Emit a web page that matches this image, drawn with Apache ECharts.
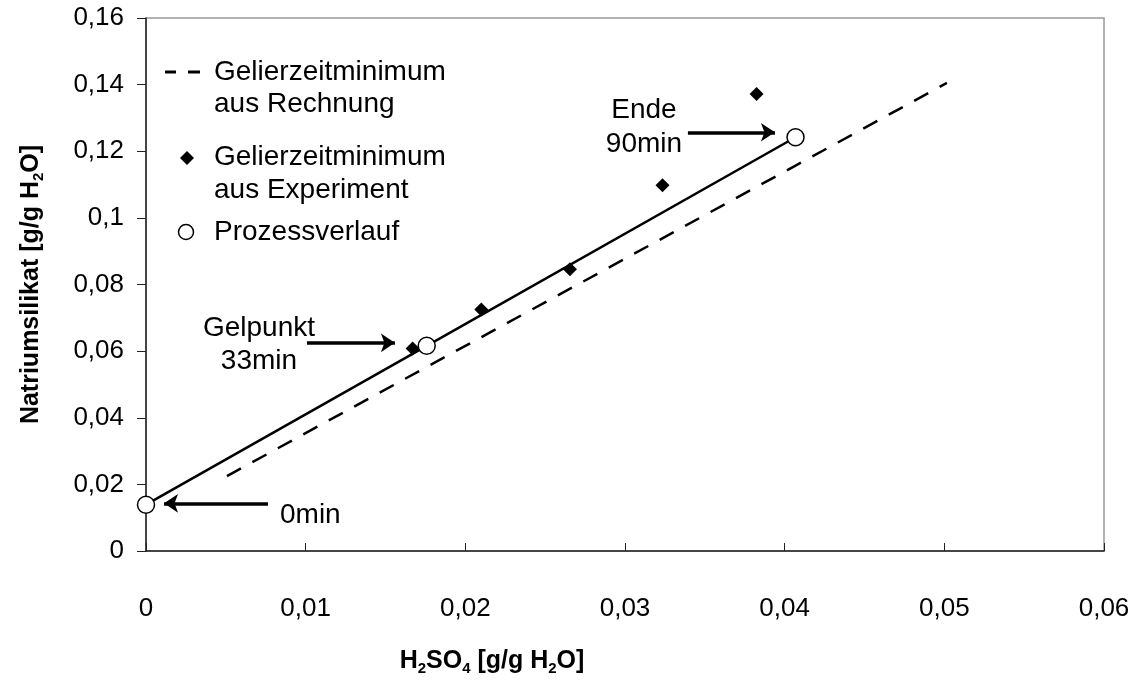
<!DOCTYPE html>
<html>
<head>
<meta charset="utf-8">
<script src="https://cdn.jsdelivr.net/npm/echarts@6/dist/echarts.min.js"></script>
<style>
html,body{margin:0;padding:0;background:#fff;}
#chart{width:1137px;height:681px;}
</style>
</head>
<body>
<div id="chart"></div>
<script>
// Data
const xTicks = [0, 0.01, 0.02, 0.03, 0.04, 0.05, 0.06];
const yTicks = [0, 0.02, 0.04, 0.06, 0.08, 0.1, 0.12, 0.14, 0.16];

const seriesNames = ['Gelierzeitminimum\naus Rechnung', 'Gelierzeitminimum\naus Experiment', 'Prozessverlauf'];

// Calculated gel-time minimum (dashed line)
const rechnungX = [0.00507, 0.05016];
const rechnungY = [0.0225, 0.1405];

// Experimental gel-time minimum (diamonds)
const experimentX = [0.0167, 0.0210, 0.02655, 0.03235, 0.03824];
const experimentY = [0.0608, 0.0725, 0.0846, 0.1098, 0.1372];

// Process path (circles joined by solid line)
const prozessX = [0, 0.01758, 0.04068];
const prozessY = [0.0139, 0.0616, 0.1242];
const prozessLabels = ['0min', 'Gelpunkt\n33min', 'Ende\n90min'];

// Annotation arrows: [fromX, toX, y]
const arrowFromX = [0.00764, 0.01008, 0.03394];
const arrowToX = [0.00113, 0.01559, 0.03939];
const arrowY = [0.0143, 0.0625, 0.1257];

const zip = (a, b) => a.map((v, i) => [v, b[i]]);
const fmt = v => String(+v.toFixed(3)).replace('.', ',');

const FONT = 'Liberation Sans, Arial, sans-serif';

const chart = echarts.init(document.getElementById('chart'), null, {renderer: 'canvas'});

const arrowData = arrowFromX.map((fx, i) => [
  {coord: [fx, arrowY[i]]},
  {coord: [arrowToX[i], arrowY[i]]}
]);

const richTitle = {
  b: {fontSize: 25, fontWeight: 'bold', fontFamily: FONT, color: '#000', lineHeight: 30},
  s: {fontSize: 15, fontWeight: 'bold', fontFamily: FONT, color: '#000', lineHeight: 15, verticalAlign: 'bottom'}
};

const option = {
  backgroundColor: '#fff',
  animation: false,
  grid: {
    left: 146, right: 33, top: 18, bottom: 118,
    show: true, borderColor: '#999', borderWidth: 1.5, backgroundColor: 'transparent'
  },
  xAxis: {
    type: 'value', min: xTicks[0], max: xTicks[xTicks.length - 1], interval: 0.01,
    name: '{b|H}{s|2}{b|SO}{s|4}{b| [g/g H}{s|2}{b|O]}',
    nameLocation: 'middle', nameGap: 95,
    nameTextStyle: {rich: richTitle, padding: [0, 266, 0, 0]},
    axisLine: {show: true, onZero: false, lineStyle: {color: '#222', width: 1.5}},
    axisTick: {show: true, inside: true, length: 8, lineStyle: {color: '#222', width: 1}},
    axisLabel: {margin: 45, fontSize: 26, fontFamily: FONT, color: '#000', formatter: fmt},
    splitLine: {show: false}
  },
  yAxis: {
    type: 'value', min: yTicks[0], max: yTicks[yTicks.length - 1], interval: 0.02,
    name: '{b|Natriumsilikat [g/g H}{s|2}{b|O]}',
    nameLocation: 'middle', nameGap: 100,
    nameTextStyle: {rich: richTitle},
    axisLine: {show: true, onZero: false, lineStyle: {color: '#222', width: 1.5}},
    axisTick: {show: true, inside: false, length: 9, lineStyle: {color: '#222', width: 1}},
    axisLabel: {margin: 22, fontSize: 26, fontFamily: FONT, color: '#000', formatter: fmt},
    splitLine: {show: false}
  },
  series: [
    {
      name: seriesNames[0], type: 'line',
      data: zip(rechnungX, rechnungY),
      symbol: 'none', silent: true,
      lineStyle: {color: '#000', width: 2.5, type: [16, 13]},
      z: 2
    },
    {
      name: seriesNames[2], type: 'line',
      data: zip(prozessX, prozessY),
      symbol: 'circle', symbolSize: 17, showAllSymbol: true, silent: true,
      lineStyle: {color: '#000', width: 2.5},
      itemStyle: {color: '#fff', borderColor: '#000', borderWidth: 1.5},
      markLine: {
        silent: true,
        symbol: ['none', 'arrow'],
        symbolSize: 14,
        label: {show: false},
        lineStyle: {color: '#000', width: 3.5, type: 'solid'},
        data: arrowData
      },
      z: 4
    },
    {
      name: seriesNames[1], type: 'scatter',
      data: zip(experimentX, experimentY),
      symbol: 'diamond', symbolSize: [14, 14], silent: true,
      itemStyle: {color: '#000', opacity: 1},
      z: 3
    }
  ],
  graphic: [
    // Legend
    {type: 'line', shape: {x1: 165, y1: 72, x2: 176, y2: 72}, style: {stroke: '#000', lineWidth: 3}},
    {type: 'line', shape: {x1: 188, y1: 72, x2: 200, y2: 72}, style: {stroke: '#000', lineWidth: 3}},
    {type: 'text', left: 214, top: 72 - 16, style: {text: seriesNames[0], font: '28px ' + FONT, fill: '#000', lineHeight: 32, verticalAlign: 'top'}},
    {type: 'polygon', shape: {points: [[187, 151], [194, 158], [187, 165], [180, 158]]}, style: {fill: '#000'}},
    {type: 'text', left: 214, top: 157 - 16, style: {text: seriesNames[1], font: '28px ' + FONT, fill: '#000', lineHeight: 33, verticalAlign: 'top'}},
    {type: 'circle', shape: {cx: 186, cy: 232, r: 7.5}, style: {fill: '#fff', stroke: '#000', lineWidth: 1.5}},
    {type: 'text', left: 214, top: 232 - 16, style: {text: seriesNames[2], font: '28px ' + FONT, fill: '#000', lineHeight: 32, verticalAlign: 'top'}},
    // Annotations
    {type: 'text', x: 280, y: 515, style: {text: prozessLabels[0], font: '28px ' + FONT, fill: '#000', align: 'left', verticalAlign: 'middle'}},
    {type: 'text', x: 259, y: 345, style: {text: prozessLabels[1], font: '28px ' + FONT, fill: '#000', align: 'center', verticalAlign: 'middle', lineHeight: 33}},
    {type: 'text', x: 644, y: 127, style: {text: prozessLabels[2], font: '28px ' + FONT, fill: '#000', align: 'center', verticalAlign: 'middle', lineHeight: 34}}
  ]
};

chart.setOption(option);
</script>
</body>
</html>
